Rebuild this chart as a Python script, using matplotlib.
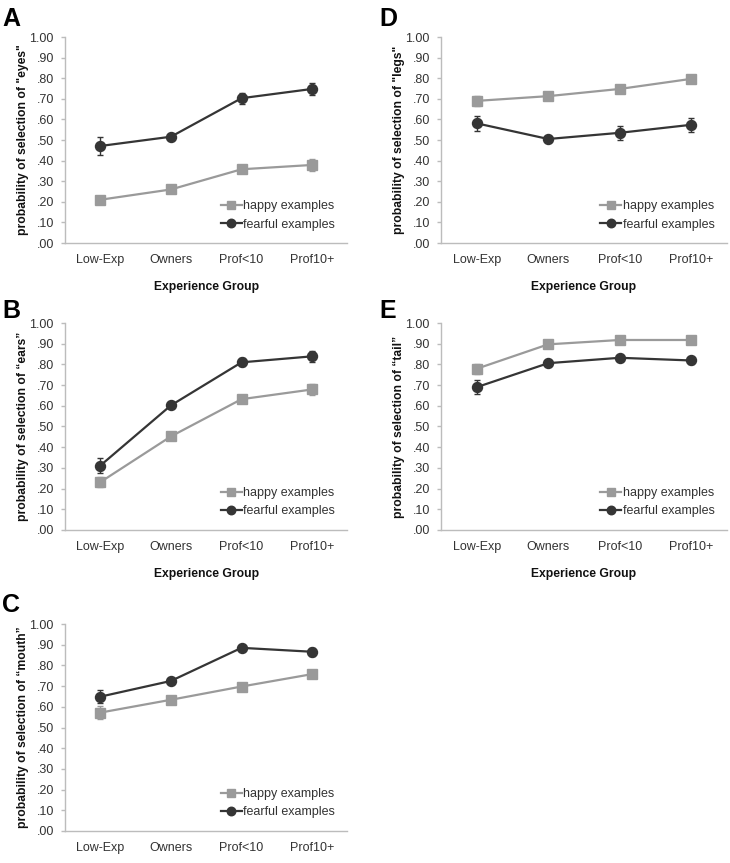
import matplotlib.pyplot as plt

plt.rcParams["font.family"] = ["Liberation Sans", "DejaVu Sans"]

groups = ["Low-Exp", "Owners", "Prof<10", "Prof10+"]
yticks = [0, 0.1, 0.2, 0.3, 0.4, 0.5, 0.6, 0.7, 0.8, 0.9, 1.0]
ytick_labels = [".00", ".10", ".20", ".30", ".40", ".50", ".60", ".70", ".80", ".90", "1.00"]

# eyes
eyes_happy = [0.21, 0.26, 0.358, 0.379]
eyes_happy_err = [0.02, 0.01, 0.02, 0.03]
eyes_fear = [0.471, 0.516, 0.703, 0.748]
eyes_fear_err = [0.043, 0.01, 0.026, 0.03]

# ears
ears_happy = [0.231, 0.452, 0.632, 0.679]
ears_happy_err = [0.025, 0.01, 0.02, 0.025]
ears_fear = [0.311, 0.602, 0.81, 0.839]
ears_fear_err = [0.035, 0.01, 0.02, 0.025]

# mouth
mouth_happy = [0.572, 0.634, 0.698, 0.758]
mouth_happy_err = [0.03, 0.01, 0.015, 0.02]
mouth_fear = [0.649, 0.725, 0.885, 0.866]
mouth_fear_err = [0.03, 0.01, 0.01, 0.02]

# legs
legs_happy = [0.69, 0.713, 0.748, 0.797]
legs_happy_err = [0.025, 0.01, 0.015, 0.015]
legs_fear = [0.581, 0.505, 0.535, 0.574]
legs_fear_err = [0.035, 0.01, 0.035, 0.035]

# tail
tail_happy = [0.779, 0.897, 0.918, 0.918]
tail_happy_err = [0.025, 0.01, 0.01, 0.01]
tail_fear = [0.69, 0.806, 0.832, 0.819]
tail_fear_err = [0.035, 0.01, 0.01, 0.015]

happy_col = "#9a9a9a"
fear_col = "#353535"
spine_col = "#bcbcbc"
text_col = "#333333"
fs = 8.7

fig = plt.figure(figsize=(7.3, 8.63), dpi=100)

# letter, quoted part, data..., axes rect, xlabel?, letter position (px from top-left)
panels = [
    ("A", '"eyes"', eyes_happy, eyes_happy_err, eyes_fear, eyes_fear_err, [0.089, 0.7184, 0.387, 0.2387], True, (2, 26)),
    ("B", "\u201cears\u201d", ears_happy, ears_happy_err, ears_fear, ears_fear_err, [0.089, 0.3859, 0.387, 0.2398], True, (2, 318)),
    ("C", "\u201cmouth\u201d", mouth_happy, mouth_happy_err, mouth_fear, mouth_fear_err, [0.089, 0.0371, 0.387, 0.2398], False, (2, 612)),
    ("D", '"legs"', legs_happy, legs_happy_err, legs_fear, legs_fear_err, [0.604, 0.7184, 0.392, 0.2387], True, (379, 26)),
    ("E", "\u201ctail\u201d", tail_happy, tail_happy_err, tail_fear, tail_fear_err, [0.604, 0.3859, 0.392, 0.2398], True, (379, 318)),
]

x = list(range(len(groups)))

for letter, part, hv, he, fv, fe, pos, show_xlabel, lpos in panels:
    ax = fig.add_axes(pos)
    ax.errorbar(x, hv, yerr=he, fmt="none", ecolor=happy_col, capsize=2.5, elinewidth=1)
    ax.errorbar(x, fv, yerr=fe, fmt="none", ecolor=fear_col, capsize=2.5, elinewidth=1)
    ax.plot(x, hv, color=happy_col, marker="s", markersize=6.5, linewidth=1.6,
            label="happy examples")
    ax.plot(x, fv, color=fear_col, marker="o", markersize=7.2, linewidth=1.6,
            label="fearful examples")
    ax.set_xlim(-0.5, 3.5)
    ax.set_ylim(0, 1.0)
    ax.set_yticks(yticks)
    ax.set_yticklabels(ytick_labels)
    ax.set_xticks(x)
    ax.set_xticklabels(groups)
    ax.tick_params(labelsize=fs + 0.3, labelcolor=text_col)
    ax.tick_params(axis="y", length=3, width=1, color=spine_col, pad=5)
    ax.tick_params(axis="x", length=0, pad=8)
    for s in ["top", "right"]:
        ax.spines[s].set_visible(False)
    for s in ["left", "bottom"]:
        ax.spines[s].set_color(spine_col)
        ax.spines[s].set_linewidth(1)
    ax.set_ylabel("probability of selection of " + part, fontsize=fs,
                  fontweight="bold", color="#111111", labelpad=0)
    if show_xlabel:
        ax.set_xlabel("Experience Group", fontsize=fs, fontweight="bold",
                      color="#111111", labelpad=11)
    leg = ax.legend(loc="lower right", frameon=False, fontsize=fs + 0.3,
                    handlelength=1.7, handletextpad=0.1, labelspacing=0.5,
                    borderaxespad=0.6, markerscale=0.85)
    for t in leg.get_texts():
        t.set_color(text_col)
    fig.text(lpos[0] / 730, 1 - lpos[1] / 863, letter, fontsize=18,
             fontweight="bold", va="baseline", ha="left", color="black")

fig.savefig("out.png", dpi=100)
